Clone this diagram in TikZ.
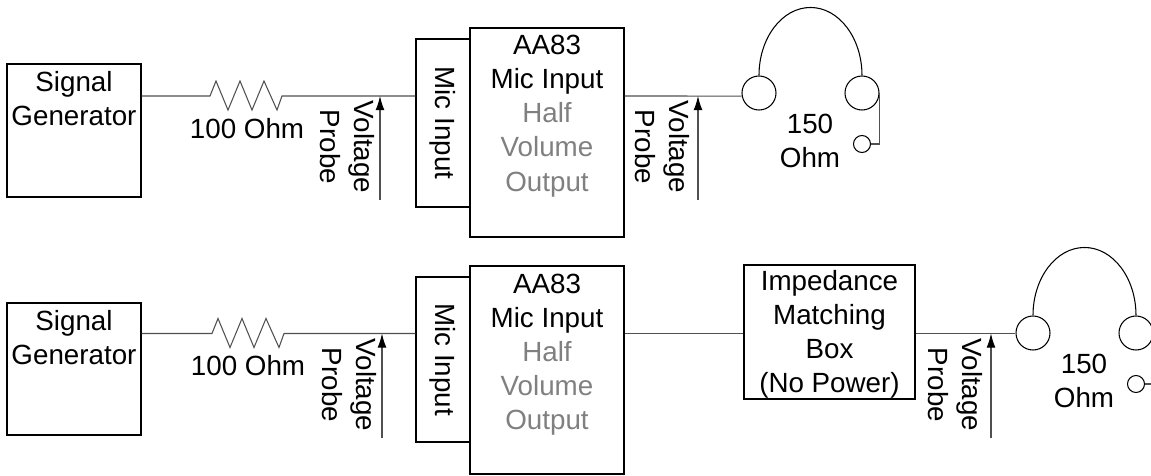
\documentclass[tikz,border=0pt]{standalone}
\usepackage{fontspec}
\setmainfont{Liberation Sans}
\usetikzlibrary{arrows.meta,positioning,calc}
\definecolor{WireGray}{HTML}{505050}
\definecolor{DimText}{HTML}{808080}
\newcommand{\dimmed}[1]{\textcolor{DimText}{#1}}
\tikzset{
  blockbox/.style={draw, line width=0.6pt, inner sep=0pt, align=center},
  blocktext/.style={inner sep=0pt, align=center},
  wire/.style={WireGray, line width=0.6pt},
  probearrow/.style={wire, -{Latex[black,length=8pt,width=5pt]}},
  earcup/.style={draw, circle, line width=0.6pt, inner sep=0pt, minimum size=0.68cm},
  jackplug/.style={draw, circle, line width=0.6pt, inner sep=0pt, minimum size=0.34cm},
}

\begin{document}
\begin{tikzpicture}[font=\fontsize{15.8}{19.4}\selectfont]
\useasboundingbox (0,0) rectangle (23.02,-9.52);
% upper chain
\node[blockbox, minimum width=2.68cm, minimum height=2.66cm] (gen1) at (1.48,-2.61) {};
\node[blocktext] (gentext1) at (1.48,-1.98) {Signal\\Generator};
\coordinate (res1in) at (4.2,-1.92);
\coordinate (res1out) at (5.64,-1.92);
\node[blocktext] (reslabel1) at (4.94,-2.58) {100 Ohm};
\node[blockbox, rotate=-90, minimum width=3.36cm, minimum height=1.08cm] (mic1) at (8.86,-2.46) {Mic Input};
\node[blockbox, minimum width=3.08cm, minimum height=4.18cm] (aa1) at (10.94,-2.65) {};
\node[blocktext] (aatext1) at (10.94,-2.32) {AA83\\Mic Input\\\dimmed{Half}\\\dimmed{Volume}\\\dimmed{Output}};
\node[blocktext, rotate=-90] (probe1a) at (6.94,-2.94) {Voltage\\Probe};
\node[blocktext, rotate=-90] (probe1b) at (13.24,-2.94) {Voltage\\Probe};
\coordinate (tail1a) at (7.60,-4.00);
\coordinate (tail1b) at (13.96,-4.00);
\node[earcup] (ear1l) at (15.18,-1.86) {};
\node[earcup] (ear1r) at (17.24,-1.86) {};
\node[jackplug] (jack1) at (17.24,-2.88) {};
\node[blocktext] (ohm1) at (16.20,-2.81) {150\\Ohm};
\draw[wire] (gen1.east |- res1in) -- (res1in) -- ++(.12,.30) -- ++(.24,-.58) -- ++(.24,.58) -- ++(.24,-.58) -- ++(.24,.58) -- ++(.26,-.58) -- (res1out) -- (mic1.south |- res1out);
\draw[wire] (aa1.east |- res1in) -- (ear1l.190);
\draw[probearrow] (tail1a) -- (tail1a |- res1in);
\draw[probearrow] (tail1b) -- (tail1b |- res1in);
\draw[line width=0.6pt] (ear1l.north) arc[start angle=180, end angle=0, x radius=1.03, y radius=1.36];
\draw[wire] (ear1r.east) |- (jack1.east);
% lower chain
\node[blockbox, minimum width=2.68cm, minimum height=2.64cm] (gen2) at (1.48,-7.38) {};
\node[blocktext] (gentext2) at (1.48,-6.76) {Signal\\Generator};
\coordinate (res2in) at (4.24,-6.67);
\coordinate (res2out) at (5.68,-6.67);
\node[blocktext] (reslabel2) at (4.96,-7.32) {100 Ohm};
\node[blockbox, rotate=-90, minimum width=3.30cm, minimum height=1.08cm] (mic2) at (8.86,-7.19) {Mic Input};
\node[blockbox, minimum width=3.08cm, minimum height=4.16cm] (aa2) at (10.94,-7.40) {};
\node[blocktext] (aatext2) at (10.94,-7.09) {AA83\\Mic Input\\\dimmed{Half}\\\dimmed{Volume}\\\dimmed{Output}};
\node[blockbox, minimum width=3.42cm, minimum height=2.68cm] (match) at (16.59,-6.64) {};
\node[blocktext] (matchtext) at (16.59,-6.69) {Impedance\\Matching\\Box\\(No Power)};
\node[blocktext, rotate=-90] (probe2a) at (6.98,-7.70) {Voltage\\Probe};
\node[blocktext, rotate=-90] (probe2b) at (19.11,-7.70) {Voltage\\Probe};
\coordinate (tail2a) at (7.64,-8.76);
\coordinate (tail2b) at (19.82,-8.76);
\node[earcup] (ear2l) at (20.66,-6.66) {};
\node[earcup] (ear2r) at (22.72,-6.66) {};
\node[jackplug] (jack2) at (22.72,-7.68) {};
\node[blocktext] (ohm2) at (21.68,-7.61) {150\\Ohm};
\draw[wire] (gen2.east |- res2in) -- (res2in) -- ++(.12,.30) -- ++(.24,-.58) -- ++(.24,.58) -- ++(.24,-.58) -- ++(.24,.58) -- ++(.26,-.58) -- (res2out) -- (mic2.south |- res2out);
\draw[wire] (aa2.east |- res2in) -- (match.west |- res2in);
\draw[wire] (match.east |- res2in) -- (ear2l.west |- res2in);
\draw[probearrow] (tail2a) -- (tail2a |- res2in);
\draw[probearrow] (tail2b) -- (tail2b |- res2in);
\draw[line width=0.6pt] (ear2l.north) arc[start angle=180, end angle=0, x radius=1.03, y radius=1.36];
\draw[wire] (ear2r.east) |- (jack2.east);
\end{tikzpicture}
\end{document}
